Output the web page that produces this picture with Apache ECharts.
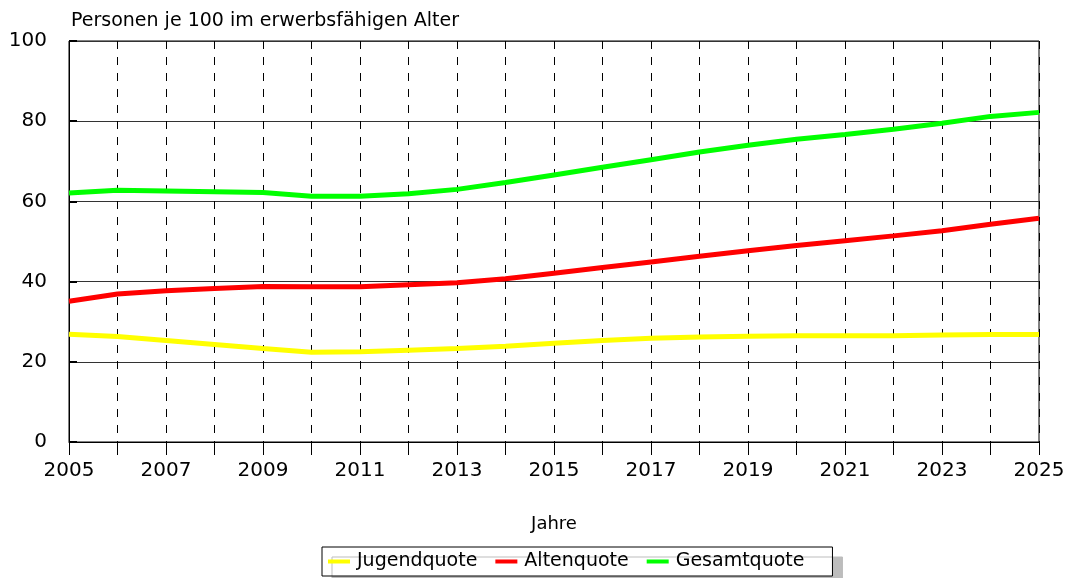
<!DOCTYPE html>
<html>
<head>
<meta charset="utf-8">
<script src="https://cdn.jsdelivr.net/npm/echarts@6/dist/echarts.min.js"></script>
<style>
  html, body { margin: 0; padding: 0; background: #fff; }
  #main { width: 1073px; height: 578px; }
</style>
</head>
<body>
<div id="main"></div>
<script>
const years = ['2005', '2006', '2007', '2008', '2009', '2010', '2011', '2012', '2013', '2014',
  '2015', '2016', '2017', '2018', '2019', '2020', '2021', '2022', '2023', '2024', '2025'];

const jugendquote = [26.9, 26.3, 25.3, 24.3, 23.3, 22.4, 22.5, 22.9, 23.3, 23.9,
  24.6, 25.3, 25.9, 26.2, 26.4, 26.5, 26.5, 26.5, 26.7, 26.8, 26.8];
const altenquote = [35.1, 36.9, 37.7, 38.3, 38.8, 38.7, 38.7, 39.2, 39.7, 40.7,
  42.1, 43.5, 44.9, 46.3, 47.7, 49.0, 50.2, 51.4, 52.7, 54.3, 55.8];
const gesamtquote = [62.1, 62.8, 62.6, 62.4, 62.2, 61.3, 61.3, 61.9, 63.0, 64.7,
  66.6, 68.5, 70.4, 72.3, 74.0, 75.5, 76.7, 78.0, 79.5, 81.2, 82.2];

const font = 'DejaVu Sans';
const myChart = echarts.init(document.getElementById('main'));

const lineSeries = (name, data, color) => ({
  name: name,
  type: 'line',
  data: data,
  symbol: 'none',
  lineStyle: { color: color, width: 5 },
  itemStyle: { color: color },
  z: 5
});

const option = {
  animation: false,
  textStyle: { fontFamily: font },
  title: {
    text: 'Personen je 100 im erwerbsfähigen Alter',
    left: 66,
    top: 7,
    textStyle: { fontFamily: font, fontSize: 19, fontWeight: 'normal', color: '#000' }
  },
  grid: {
    left: 69, right: 34, top: 41, bottom: 136,
    show: true, borderColor: '#000', borderWidth: 1,
    containLabel: false
  },
  legend: {
    bottom: 2,
    left: 322,
    data: ['Jugendquote', 'Altenquote', 'Gesamtquote'],
    icon: 'rect',
    itemWidth: 22,
    itemHeight: 4,
    itemGap: 18,
    padding: [5, 28, 5, 6],
    backgroundColor: '#fff',
    borderColor: '#000',
    borderWidth: 1,
    borderRadius: 0,
    shadowColor: '#bdbdbd',
    shadowBlur: 0,
    shadowOffsetX: 10,
    shadowOffsetY: 10,
    textStyle: { fontFamily: font, fontSize: 19, color: '#000', padding: [0, 0, 0, 2] }
  },
  xAxis: {
    type: 'category',
    data: years,
    boundaryGap: false,
    name: 'Jahre',
    nameLocation: 'middle',
    nameGap: 73,
    nameTextStyle: { fontFamily: font, fontSize: 18, color: '#000' },
    axisLine: { lineStyle: { color: '#000', width: 1 } },
    axisTick: { show: true, interval: 0, length: 13, lineStyle: { color: '#000' } },
    axisLabel: { interval: 1, margin: 19, fontFamily: font, fontSize: 20, color: '#000' },
    splitLine: {
      show: true,
      interval: 0,
      lineStyle: { color: '#000', type: [8, 8], width: 1 }
    }
  },
  yAxis: {
    type: 'value',
    min: 0,
    max: 100,
    interval: 20,
    axisLine: { show: true, lineStyle: { color: '#000' } },
    axisTick: { show: true, inside: true, length: 8, lineStyle: { color: '#000', width: 2 } },
    axisLabel: { margin: 22, fontFamily: font, fontSize: 20, color: '#000' },
    splitLine: { show: true, lineStyle: { color: '#333', width: 1 } }
  },
  series: [
    lineSeries('Jugendquote', jugendquote, '#ffff00'),
    lineSeries('Altenquote', altenquote, '#ff0000'),
    lineSeries('Gesamtquote', gesamtquote, '#00ff00')
  ]
};

myChart.setOption(option);
</script>
</body>
</html>
